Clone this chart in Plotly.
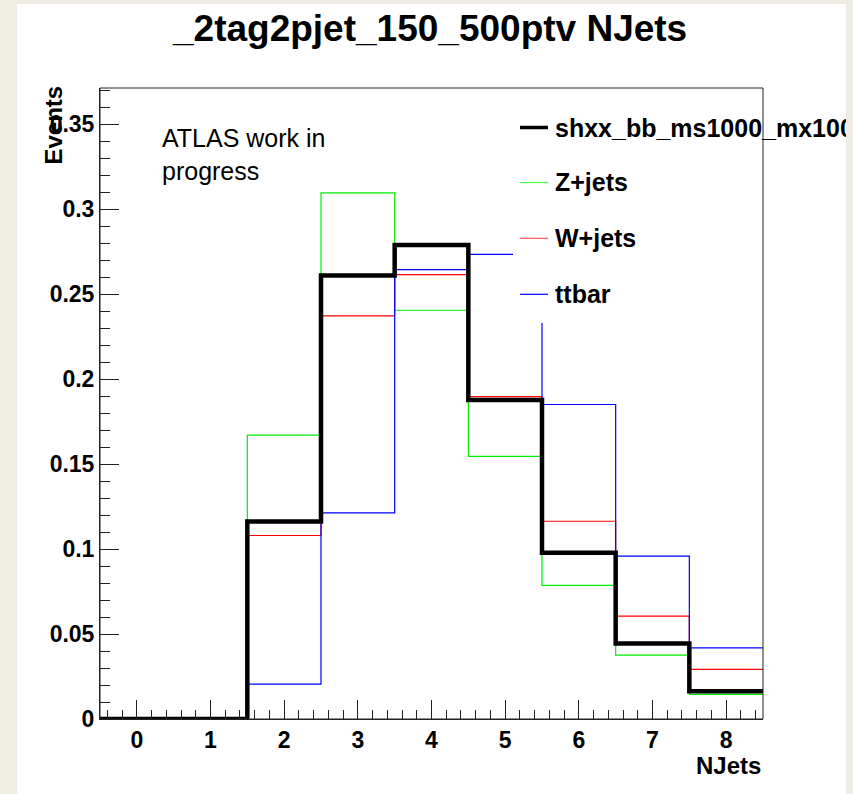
import plotly.graph_objects as go

# ---------------- data ----------------
njets = [0, 1, 2, 3, 4, 5, 6, 7, 8]
signal = [0.0, 0.0, 0.1162, 0.2611, 0.2790, 0.1878, 0.0978, 0.0444, 0.0164]
zjets = [0.0, 0.0, 0.1671, 0.3097, 0.2406, 0.1546, 0.0786, 0.0376, 0.0145]
wjets = [0.0, 0.0, 0.1080, 0.2373, 0.2616, 0.1898, 0.1164, 0.0605, 0.0292]
ttbar = [0.0, 0.0, 0.0205, 0.1213, 0.2645, 0.2735, 0.1851, 0.0959, 0.0419]
series_names = ["shxx_bb_ms1000_mx100", "Z+jets", "W+jets", "ttbar"]
x_tick_vals = [0, 1, 2, 3, 4, 5, 6, 7, 8]
title_text = "_2tag2pjet_150_500ptv NJets"
x_title = "NJets"
y_title = "Events"
label_text = "ATLAS work in<br>progress"

# ---------------- geometry ----------------
W, H = 853, 794
L, R, T, B = 100, 763, 88, 719
FONT = "Liberation Sans, Arial, Helvetica, sans-serif"


def px(x):
    return (x - L) / (R - L)


def py(y):
    return (B - y) / (B - T)


def steps(vals):
    edges = [c - 0.5 for c in njets] + [njets[-1] + 0.5]
    return edges, list(vals) + [vals[-1]]


fig = go.Figure()
styles = [
    (zjets, series_names[1], "#00ee00", 1.2),
    (wjets, series_names[2], "#ff0000", 1.2),
    (ttbar, series_names[3], "#0000ff", 1.2),
    (signal, series_names[0], "#000000", 4.5),
]
for vals, name, color, width in styles:
    xs, ys = steps(vals)
    fig.add_trace(go.Scatter(x=xs, y=ys, mode="lines", name=name,
                             line=dict(color=color, width=width, shape="hv"),
                             hoverinfo="skip", showlegend=False))

shapes = []
# white canvas on beige page
shapes.append(dict(type="rect", xref="paper", yref="paper",
                   x0=px(17), x1=px(846), y0=py(794), y1=py(4),
                   fillcolor="white", line=dict(width=0), layer="below"))
# legend box (covers data)
shapes.append(dict(type="rect", xref="paper", yref="paper",
                   x0=px(513), x1=px(846), y0=py(323), y1=py(100),
                   fillcolor="white", line=dict(width=0), layer="above"))
# frame
shapes.append(dict(type="rect", xref="paper", yref="paper",
                   x0=0, x1=1, y0=0, y1=1,
                   line=dict(color="#222222", width=1), layer="above"))

leg_y = [127.5, 182.5, 238.3, 294.3]
leg_colors = ["#000000", "#44ff44", "#ff5555", "#0000ff"]
leg_widths = [3.5, 1.2, 1.2, 1.2]
annotations = []
for name, yy, col, lw in zip(series_names, leg_y, leg_colors, leg_widths):
    shapes.append(dict(type="line", xref="paper", yref="paper",
                       x0=px(520), x1=px(548), y0=py(yy), y1=py(yy),
                       line=dict(color=col, width=lw), layer="above"))
    annotations.append(dict(text=name, xref="paper", yref="paper",
                            x=px(553), y=py(yy), xanchor="left", yanchor="middle",
                            align="left", showarrow=False, width=291 if len(name) > 10 else None,
                            font=dict(family=FONT, size=25, color="black", weight="bold")))

annotations.append(dict(text=title_text, xref="paper", yref="paper",
                        x=px(429), y=py(29), xanchor="center", yanchor="middle",
                        showarrow=False,
                        font=dict(family=FONT, size=37, color="black", weight="bold")))
annotations.append(dict(text=label_text, xref="paper", yref="paper",
                        x=px(160), y=py(122), xanchor="left", yanchor="top", align="left",
                        showarrow=False, font=dict(family=FONT, size=25, color="black")))
annotations.append(dict(text=y_title, xref="paper", yref="paper",
                        x=px(53), y=py(84), xanchor="center", yanchor="top", textangle=-90,
                        showarrow=False,
                        font=dict(family=FONT, size=24, color="black", weight="bold")))
annotations.append(dict(text=x_title, xref="paper", yref="paper",
                        x=px(763), y=py(765), xanchor="right", yanchor="middle",
                        showarrow=False,
                        font=dict(family=FONT, size=24, color="black", weight="bold")))

tick_font = dict(size=23, family=FONT, color="black", weight="bold")
fig.update_layout(
    width=W, height=H,
    margin=dict(l=L, r=W - R, t=T, b=H - B, pad=0),
    paper_bgcolor="#efece4",
    plot_bgcolor="white",
    showlegend=False,
    shapes=shapes,
    annotations=annotations,
    font=dict(family=FONT, size=22, color="black"),
    xaxis=dict(range=[-0.5, 8.5], tickmode="array", tickvals=x_tick_vals,
               ticks="inside", ticklen=19, tickwidth=1, tickcolor="#222222",
               minor=dict(dtick=0.2, tick0=0, ticks="inside", ticklen=9,
                          tickwidth=1, tickcolor="#222222", showgrid=False),
               showgrid=False, zeroline=False, showline=True, linecolor="#222222",
               linewidth=1, tickfont=tick_font),
    yaxis=dict(range=[0, 0.3714], dtick=0.05, tick0=0,
               ticks="inside", ticklen=19, tickwidth=1, tickcolor="#222222",
               minor=dict(dtick=0.01, ticks="inside", ticklen=10,
                          tickwidth=1, tickcolor="#222222", showgrid=False),
               showgrid=False, zeroline=False, showline=True, linecolor="#222222",
               linewidth=1, tickfont=tick_font),
)

fig.write_html("out.html", config={"displayModeBar": False})
